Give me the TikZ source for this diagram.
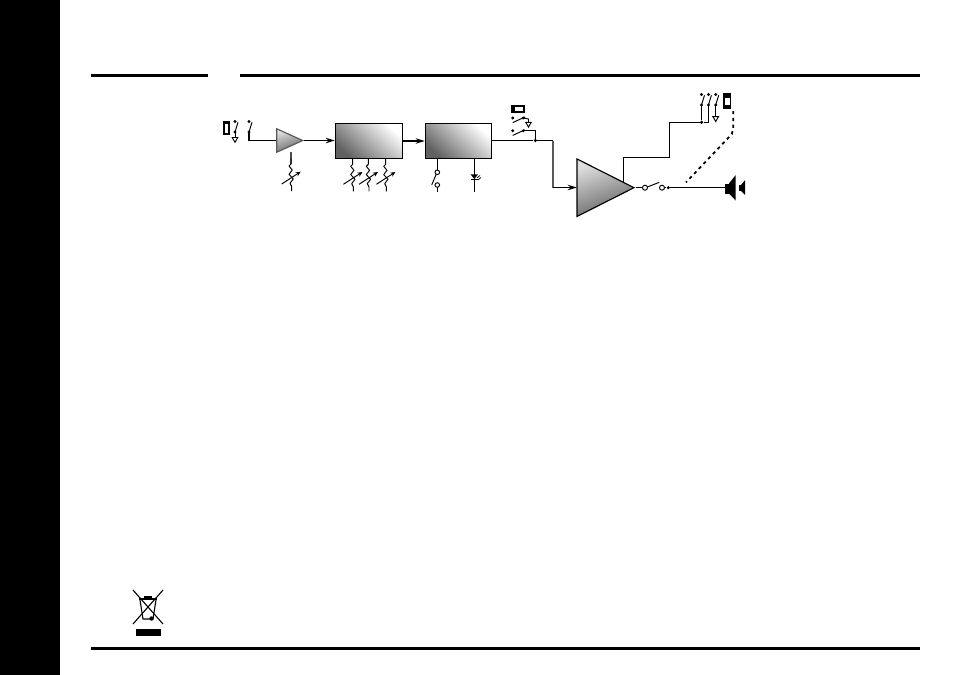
\documentclass[tikz,border=0pt]{standalone}
\usetikzlibrary{arrows.meta,shapes.geometric}
\tikzset{
  wire/.style={line width=1.05pt,line join=miter},
  thin wire/.style={line width=0.95pt},
  arr/.style={wire,-{Stealth[length=9pt,width=5.5pt]}},
  blockbox/.style={draw,line width=1.15pt,rectangle,inner sep=0pt,minimum width=67.5pt,minimum height=34.5pt,shading=axis,top color=white,bottom color=black!62,shading angle=-42},
  ampbody/.style={draw,line width=1.15pt,isosceles triangle,isosceles triangle stretches,inner sep=0pt,shape border rotate=0,shading=axis,top color=black!12,bottom color=black!62,shading angle=20},
  jdot/.style={circle,fill=black,inner sep=0pt,minimum size=3.6pt},
  sdot/.style={circle,fill=black,inner sep=0pt,minimum size=3.2pt},
  ocirc/.style={circle,draw,fill=white,line width=0.95pt,inner sep=0pt,minimum size=4.6pt},
  rule/.style={line width=3pt},
  gnd/.pic={\draw[thin wire,fill=white] (-2.8,0) -- (2.8,0) -- (0,4.8) -- cycle;},
  potm/.pic={
    \draw[thin wire,line join=round] (0,0) -- (0,6) -- (-2,8) -- (1.3,12) -- (-2,16.3) -- (2.3,21) -- (-1,25.3) -- (0.7,28.7) -- (0.7,33);
    \draw[thin wire,-{Stealth[length=5pt,width=4.5pt]}] (-9.3,26) -- (9.7,13.7);
  },
  vsw/.pic={
    \node[sdot] at (0,0) {};
    \node[sdot] at (0,10.5) {};
    \draw[thin wire] (0,10.5) -- (3,0.8);
  },
  hsw/.pic={
    \node[sdot] at (0,0) {};
    \node[sdot] at (10.6,0) {};
    \draw[thin wire] (0,4.6) -- (12.3,-1);
  }
}
\begin{document}
\begin{tikzpicture}[x=1pt,y=-1pt]
\useasboundingbox (0,0) rectangle (954,675);
\fill[white] (0,0) rectangle (954,675);
\fill[black] (0,0) rectangle (60,675);
\coordinate (r1a) at (91,75.3); \coordinate (r1b) at (208,75.3);
\coordinate (r2a) at (240,75.3); \coordinate (r2b) at (919.5,75.3);
\coordinate (r3a) at (91,648.3); \coordinate (r3b) at (919.5,648.3);
\draw[rule] (r1a) -- (r1b);
\draw[rule] (r2a) -- (r2b);
\draw[rule] (r3a) -- (r3b);

% input switches
\fill[black] (222.8,121) rectangle (230.2,135);
\fill[white] (225,124) rectangle (228,132.5);
\pic at (235,121.5) {vsw};
\coordinate (g1) at (235,132);
\pic at (235,137.5) {gnd};
\draw[thin wire] (g1) -- +(0,5.5);
\pic at (249,121.5) {vsw};
\coordinate (s2) at (249,132);

% amps and blocks
\node[ampbody,draw=black!65,minimum width=23.5pt,minimum height=26pt,anchor=apex] (amp1) at (304.2,140.5) {};
\node[blockbox] (box1) at (369,141) {};
\node[blockbox,minimum width=66.5pt] (box2) at (458.5,141) {};
\node[ampbody,minimum width=57.5pt,minimum height=57pt,anchor=apex] (amp2) at (635.5,187.7) {};

\draw[wire] (s2) |- (amp1.west |- 0,140.5);
\draw[arr] (amp1.apex) -- (box1.west |- amp1.apex);
\draw[arr] (box1.east |- 0,141) -- (box2.west |- 0,141);

% pots
\coordinate (p0) at (291,151.5);
\draw[line width=1.1pt,black!70] (p0) -- +(0,12);
\pic at (291,158) {potm};
\pic at (352.7,158.3) {potm};
\pic at (368.3,158.3) {potm};
\pic at (385.7,158.3) {potm};

% footswitch
\coordinate (fs0) at (437.3,158.3);
\coordinate (fs1) at (437.3,191.7);
\draw[wire] (fs0) -- (fs1);
\fill[white] (435,175) rectangle (439.6,183);
\node[ocirc] (fsa) at (437.3,172.3) {};
\node[ocirc] (fsb) at (437.3,185) {};
\draw[thin wire] (431.7,185) -- (436.3,174);

% led
\coordinate (l0) at (474.3,158.3);
\coordinate (l1) at (474.3,191.7);
\draw[wire] (l0) -- (l1);
\fill (470.5,174.3) -- (478.1,174.3) -- (474.3,179) -- cycle;
\draw[line width=1.3pt] (470.5,179.2) -- (478.1,179.2);
\draw[line width=0.7pt] (476.8,178) -- (480,175.5);
\draw[line width=0.7pt] (477.8,180) -- (481,177.5);

% main line
\node[jdot] (j1) at (535.3,140.5) {};
\coordinate (m1) at (553,140.5);
\draw[wire] (box2.east |- j1) -- (j1) -- (m1);
\coordinate (m2) at (553,187.5);
\draw[wire,black!65] (m1) -- (m2);
\draw[arr] (m2) -- (576.7,187.5);

% upper icon + switches
\fill[black] (511,105) rectangle (525,112.9);
\fill[white] (515.3,106.6) rectangle (523.3,111.2);
\pic at (512.7,118) {hsw};
\pic at (512.7,130.8) {hsw};
\coordinate (hs1) at (523.3,118);
\coordinate (hs1b) at (528.5,119);
\draw[thin wire] (hs1) -- (hs1b) -- (528.5,122.3);
\pic at (528.5,122.3) {gnd};
\coordinate (hs2) at (523.3,130.8);
\coordinate (hs2b) at (535.3,130.8);
\draw[wire] (hs2) -- (hs2b) -- (j1);

% amp2 feedback and switches
\coordinate (f0) at (623.3,181.5);
\coordinate (f1) at (623.3,157.3);
\coordinate (f2) at (669.3,157.3);
\coordinate (f3) at (669.3,122.3);
\node[jdot] (f4) at (701.5,122.3) {};
\coordinate (f5) at (708.4,122.3);
\coordinate (f6) at (708.4,105.5);
\draw[wire] (f0) -- (f1) -- (f2) -- (f3) -- (f4) -- (f5) -- (f6);
\draw[wire] (f4) -- (701.5,105.5);
\pic at (701.5,94.5) {vsw};
\pic at (708.4,94.5) {vsw};
\pic at (715.7,94.5) {vsw};
\draw[thin wire] (715.7,105) -- (715.7,116.7);
\pic at (715.7,116.7) {gnd};
\fill[black] (723.3,93.3) rectangle (731.2,109);
\fill[white] (725,97.5) rectangle (729.6,105);

% linked dashed
\coordinate (d0) at (733.3,111);
\coordinate (d1) at (733.3,128.3);
\coordinate (d2) at (731.7,134.3);
\coordinate (d3) at (686,182.3);
\draw[line width=1.8pt,dash pattern=on 3.2pt off 3.6pt] (d0) -- (d1) -- (d2) -- (d3);

% output
\node[ocirc,minimum size=5pt] (oa) at (645,187.7) {};
\node[ocirc,minimum size=5pt] (ob) at (662,187.7) {};
\node[sdot,minimum size=3.4pt] (oc) at (668.3,187.7) {};
\coordinate (spk) at (725,187.7);
\draw[wire] (amp2.apex) -- (oa);
\draw[thin wire] (647.3,187) -- (659.3,182.3);
\draw[wire] (ob) -- (oc) -- (spk);
\fill[black] (725,183.5) rectangle (729.5,193.5);
\fill[black] (729,183.5) -- (735.7,175) -- (735.7,200.5) -- (729,193.5) -- cycle;
\fill[black] (739,185) rectangle (741.5,191);
\fill[black] (741,185) -- (745.2,180) -- (745.2,195) -- (741,191) -- cycle;

% WEEE
\draw[line width=1.1pt] (133,590) -- (163,624);
\draw[line width=1.1pt] (163,590) -- (133,624);
\fill[black] (136,629) rectangle (161,636);
\draw[line width=1.1pt] (140,600) -- (143,619) -- (153,619) -- (156,600);
\draw[line width=1.4pt] (139,599) -- (157,599);
\fill[black] (144,596) rectangle (152,599);
\fill[black] (151.5,618.5) circle (2.2);
\end{tikzpicture}
\end{document}
